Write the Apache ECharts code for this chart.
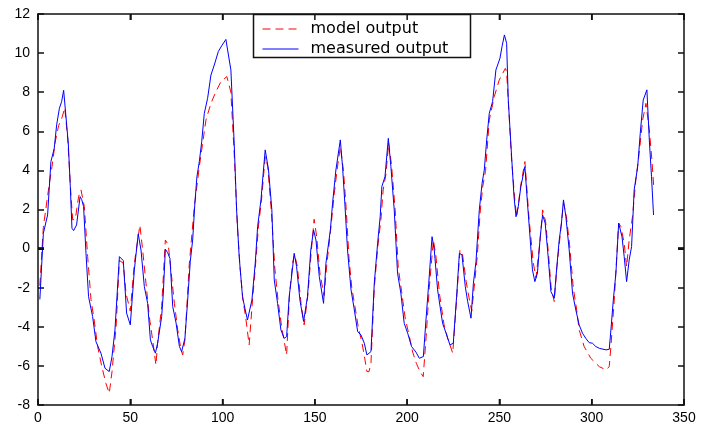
<!DOCTYPE html>
<html><head><meta charset="utf-8">
<script src="https://cdn.jsdelivr.net/npm/echarts@6/dist/echarts.min.js"></script>
<style>html,body{margin:0;padding:0;background:#fff}#c{width:705px;height:429px}</style>
</head><body><div id="c"></div>
<script>
const seriesNames = ['model output', 'measured output'];

const measuredX = [1,2.9,5.2,7.0,8.8,10.1,11.6,12.8,13.9,14.6,16.4,17.5,18.4,19.3,20.9,22.8,23.7,24.7,26.0,27.4,29.6,31.4,34.1,36.3,38.6,40.1,41.7,44.1,46.2,48.0,50.0,52.2,54.3,55.8,57.6,59.4,60.9,62.1,63.6,64.8,67.0,67.9,69.0,70.2,71.5,73.0,74.8,76.6,77.8,79.6,81.1,82.5,83.8,85.0,86.1,87.4,88.7,90.1,91.9,93.7,95.5,97.7,99.5,101.8,102.6,104.5,106.3,107.6,109.0,110.8,112.3,113.5,114.4,115.9,117.7,119.0,120.8,122.0,123.1,124.9,126.7,128.0,129.8,131.6,133.4,134.7,136.1,137.6,138.8,140.1,141.9,143.9,146.0,147.8,149.3,150.6,152.4,154.7,156.0,158.4,159.6,161.4,163.8,165.0,166.3,167.7,169.6,171.4,173.2,175.0,176.8,178.2,180.4,182.2,184.0,185.4,186.3,188.0,189.8,191.2,193.0,194.8,196.6,198.4,200.3,202.4,204.8,206.6,208.8,210.2,211.7,213.5,214.7,216.5,219.2,221.1,223.2,225.0,226.8,228.3,229.7,231.5,232.8,234.6,235.9,237.3,239.1,240.6,241.8,243.1,244.5,246.3,248.1,250.3,251.4,252.7,253.9,254.8,256.6,257.9,259.0,260.2,261.6,263.8,265.2,266.7,267.9,269.2,270.6,272.1,273.4,274.8,276.4,277.9,279.7,281.1,282.4,283.6,284.7,286.0,287.8,289.6,291.4,293.2,295.0,296.8,298.6,300.4,302.2,304.1,307.7,309.5,310.4,311.7,313.1,314.6,316.4,317.6,318.9,320.3,321.6,323.0,324.9,326.3,327.9,329.9,331.2,332.4,333.5];
const measuredY = [-2.6,0.78,1.72,4.45,5.13,6.33,7.18,7.52,8.1,8.1,5.4,3.17,1.04,0.92,1.21,2.66,2.5,2.15,-0.24,-2.46,-3.48,-4.76,-5.35,-6.12,-6.29,-5.52,-4.16,-0.41,-0.61,-3.3,-3.9,-1.09,0.75,-0.07,-1.94,-2.8,-4.67,-5.0,-5.35,-4.84,-3.48,-2.28,-0.03,-0.2,-0.5,-2.97,-3.8,-5.0,-5.27,-4.59,-2.63,-0.66,0.44,2.32,3.68,4.45,5.47,6.92,7.69,8.88,9.39,10.08,10.37,10.7,10.79,9.14,5.39,1.98,-0.41,-2.46,-3.14,-3.65,-3.73,-2.63,-0.75,1.13,2.49,3.85,5.05,4.02,1.98,-1.6,-2.8,-4.16,-4.59,-4.5,-2.46,-1.26,-0.24,-0.92,-2.63,-3.73,-2.46,-0.07,0.95,0.44,-1.43,-2.8,-0.75,0.95,2.32,4.02,5.56,4.19,2.23,-0.07,-2.11,-3.14,-4.25,-4.42,-4.84,-5.44,-5.27,-1.77,0.27,1.64,3.17,3.68,5.64,4.19,1.98,-1.26,-2.28,-3.82,-4.33,-5.01,-5.3,-5.61,-5.52,-3.65,-1.77,0.61,-0.07,-2.11,-3.82,-4.33,-4.93,-4.84,-2.46,-0.24,-0.32,-1.94,-2.71,-3.56,-1.77,-0.66,1.98,3.34,4.02,5.56,6.92,7.52,9.14,9.74,10.33,10.93,10.5,7.6,4.7,2.66,1.63,2.15,3.17,4.19,2.32,0.44,-1.09,-1.69,-1.26,0.61,1.72,1.3,-0.41,-2.2,-2.54,-0.92,0.44,1.3,2.49,1.64,-0.07,-2.28,-3.14,-3.9,-4.33,-4.59,-4.81,-4.84,-5.01,-5.1,-5.18,-5.15,-4.16,-2.63,-1.26,1.3,0.61,-0.41,-1.69,-0.58,0.1,3.0,4.19,5.9,7.6,8.12,5.56,3.68,1.72];

const modelX = [1,2.9,6.1,7.6,9.4,11.2,13.0,14.5,16.1,17.9,18.8,20.2,22.0,23.3,25.1,26.9,28.7,30.5,32.3,34.5,36.8,38.6,40.1,42.3,44.1,46.2,47.7,50.0,52.2,55.2,56.7,58.5,60.3,62.1,63.9,64.8,67.0,69.0,70.6,72.0,73.9,75.7,77.5,78.4,79.6,82.0,84.7,87.4,89.2,91.0,93.7,96.4,99.1,102.3,104.5,106.5,108.0,109.5,111.0,112.5,114.4,116.0,117.8,119.5,121.0,123.1,124.5,126.5,128.3,130.0,132.0,134.7,136.3,138.0,139.0,140.5,142.5,144.2,146.3,148.0,149.6,151.0,152.8,155.0,156.5,158.6,160.5,162.0,163.8,165.5,167.0,168.5,170.0,171.8,173.5,175.5,177.0,178.2,179.3,180.4,182.2,184.0,185.8,187.0,188.5,190.0,191.5,193.5,195.2,197.0,199.0,201.0,203.0,205.0,207.0,208.7,210.3,212.0,214.2,215.5,217.5,220.0,222.0,224.7,226.8,228.6,230.0,232.0,233.5,235.0,236.5,238.0,239.5,241.0,242.5,244.5,247.2,249.9,253.2,253.9,256.6,258.5,259.4,261.5,263.8,266.0,268.3,269.8,270.6,272.1,273.4,275.0,276.6,278.0,279.7,281.1,282.6,284.7,286.2,288.0,290.0,291.8,293.2,295.9,299.5,304.1,307.7,309.5,310.4,312.2,314.6,315.8,317.6,318.9,320.3,322.1,323.9,325.7,327.6,329.4,331.2,332.6,333.6];
const modelY = [-1.9,1.1,3.3,4.2,5.5,6.3,6.7,7.2,5.6,2.66,1.47,1.5,2.66,3.0,2.15,-0.4,-2.6,-3.7,-5.0,-6.0,-6.9,-7.4,-6.3,-4.0,-0.6,-0.75,-2.3,-3.2,-0.75,1.2,-0.07,-1.77,-3.48,-4.67,-5.95,-4.84,-2.97,0.44,0.19,-1.09,-2.8,-4.16,-5.18,-5.44,-4.67,-0.75,2.15,4.19,5.39,6.58,7.43,8.03,8.54,8.8,8.0,4.5,1.2,-1.0,-2.6,-3.5,-4.93,-2.9,-0.9,1.2,2.4,4.7,4.2,1.8,-1.0,-2.6,-4.0,-5.44,-2.3,-0.7,-0.3,-0.9,-2.8,-3.9,-2.3,-0.2,1.5,0.6,-1.3,-2.4,-0.8,1.0,2.8,4.0,5.2,4.0,2.0,-0.5,-2.0,-3.0,-4.0,-4.8,-5.6,-6.29,-6.3,-5.86,-2.0,0.0,1.5,3.0,3.8,5.4,4.3,2.0,-1.0,-2.2,-3.6,-4.4,-5.3,-5.87,-6.3,-6.55,-4.5,-2.0,0.44,-0.3,-2.3,-3.9,-4.6,-5.35,-2.6,-0.07,-0.3,-1.7,-2.5,-3.2,-1.8,-0.4,1.8,3.2,4.0,6.58,7.77,8.63,9.22,9.05,4.53,2.3,1.63,3.2,4.45,1.6,-0.7,-1.5,-1.4,0.5,1.98,1.4,-0.3,-2.0,-2.71,-1.0,0.4,2.32,1.7,0.2,-2.0,-3.1,-4.16,-5.01,-5.61,-6.04,-6.2,-6.04,-5.0,-2.63,1.3,1.13,0.27,-0.92,0.44,1.64,3.51,4.88,6.58,7.43,6.07,4.54,3.17];

const xTicks = [0, 50, 100, 150, 200, 250, 300, 350];
const yTicks = [-8, -6, -4, -2, 0, 2, 4, 6, 8, 10, 12];
const xMin = 0, xMax = 350, xStep = 50;
const yMin = -8, yMax = 12, yStep = 2;

const zip = (xs, ys) => xs.map((x, i) => [x, ys[i]]);
const tickFont = { fontFamily: 'Liberation Sans, Arial, sans-serif', fontSize: 14, color: '#000' };
const TICK_LEN = 6;

const chart = echarts.init(document.getElementById('c'), null, { renderer: 'canvas' });
function axisCommon() {
  return {
    axisLine: { show: true, onZero: false, lineStyle: { color: '#111', width: 1.5 } },
    axisTick: { show: true, inside: true, length: TICK_LEN, lineStyle: { color: '#111', width: 1.5 } },
    splitLine: { show: false }
  };
}
// inward tick marks on all four sides, drawn by a custom series through the axis scales
function tickRender(kind) {
  return function (params, api) {
    const v = api.value(0);
    const st = { stroke: '#111', lineWidth: 1.5, fill: null };
    if (kind === 'x') {
      const a = api.coord([v, yMin]), b = api.coord([v, yMax]);
      return { type: 'group', children: [
        { type: 'line', shape: { x1: a[0], y1: a[1], x2: a[0], y2: a[1] - TICK_LEN }, style: st },
        { type: 'line', shape: { x1: b[0], y1: b[1], x2: b[0], y2: b[1] + TICK_LEN }, style: st }
      ] };
    }
    const a = api.coord([xMin, v]), b = api.coord([xMax, v]);
    return { type: 'group', children: [
      { type: 'line', shape: { x1: a[0], y1: a[1], x2: a[0] + TICK_LEN, y2: a[1] }, style: st },
      { type: 'line', shape: { x1: b[0], y1: b[1], x2: b[0] - TICK_LEN, y2: b[1] }, style: st }
    ] };
  };
}
chart.setOption({
  animation: false,
  backgroundColor: '#fff',
  grid: { left: 38, right: 21, top: 14, bottom: 24, containLabel: false },
  xAxis: [
    Object.assign({ type: 'value', min: xMin, max: xMax, interval: xStep, position: 'bottom',
      axisLabel: Object.assign({ margin: 6 }, tickFont) }, axisCommon()),
    Object.assign({ type: 'value', min: xMin, max: xMax, interval: xStep, position: 'top',
      axisLabel: { show: false } }, axisCommon())
  ],
  yAxis: [
    Object.assign({ type: 'value', min: yMin, max: yMax, interval: yStep, position: 'left',
      axisLabel: Object.assign({ margin: 8 }, tickFont) }, axisCommon()),
    Object.assign({ type: 'value', min: yMin, max: yMax, interval: yStep, position: 'right',
      axisLabel: { show: false } }, axisCommon())
  ],
  graphic: [{
    id: 'legendBox', type: 'rect', z: 3, shape: { x: 253.5, y: 14.5, width: 217, height: 43 },
    style: { fill: '#fff', stroke: '#111', lineWidth: 1.5 }
  }],
  legend: {
    z: 10, orient: 'vertical', left: 262, top: 21, padding: 0, itemGap: 4,
    itemWidth: 36, itemHeight: 14,
    itemStyle: { opacity: 0 },
    lineStyle: { width: 1 },
    textStyle: { fontFamily: 'DejaVu Sans, sans-serif', fontSize: 16, color: '#000', padding: [0, 0, 0, 7] },
    data: seriesNames
  },
  series: [
    { name: seriesNames[0], type: 'line', data: zip(modelX, modelY), symbol: 'none', smooth: false,
      lineStyle: { color: '#ff0000', width: 1, type: [8, 5] }, itemStyle: { color: '#ff0000' }, z: 2 },
    { name: seriesNames[1], type: 'line', data: zip(measuredX, measuredY), symbol: 'none', smooth: false,
      lineStyle: { color: '#0000ff', width: 1, type: 'solid' }, itemStyle: { color: '#0000ff' }, z: 3 },
    { name: 'xticks', type: 'custom', silent: true, z: 5, clip: false,
      data: xTicks.map(v => [v, yMin]), renderItem: tickRender('x') },
    { name: 'yticks', type: 'custom', silent: true, z: 5, clip: false,
      data: yTicks.map(v => [xMin, v]), renderItem: tickRender('y') }
  ]
});
</script></body></html>
